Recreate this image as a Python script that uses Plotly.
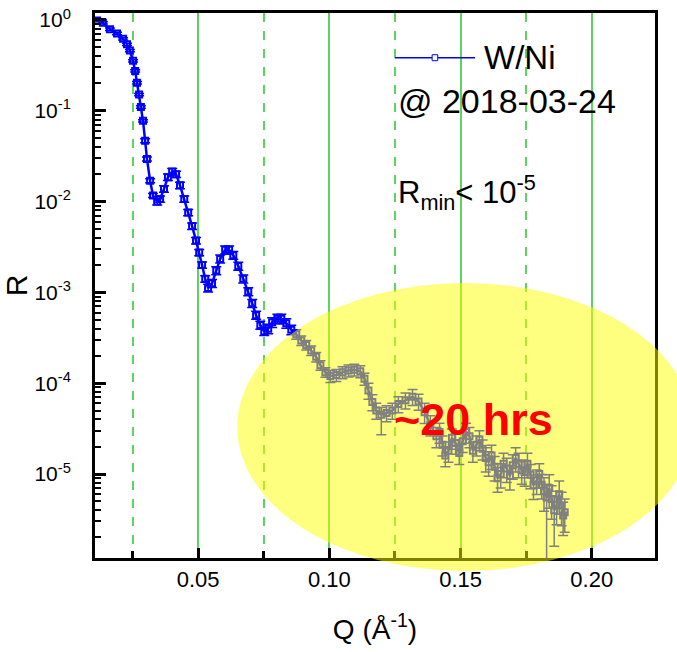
import plotly.graph_objects as go

# Q (1/Angstrom)
q = [0.0115, 0.0137, 0.0164, 0.0191, 0.0214, 0.0229, 0.0240, 0.0252, 0.0260, 0.0267,
     0.0275, 0.0282, 0.0290, 0.0298, 0.0305, 0.0317, 0.0328, 0.0344, 0.0355, 0.0370,
     0.0385, 0.0401, 0.0416, 0.0431, 0.0447, 0.0462, 0.0477, 0.0492, 0.0504, 0.0515,
     0.0527, 0.0538, 0.0553, 0.0569, 0.0584, 0.0603, 0.0618, 0.0634, 0.0653, 0.0672,
     0.0691, 0.0706, 0.0721, 0.0737, 0.0752, 0.0767, 0.0782, 0.0802, 0.0817, 0.0836,
     0.0855, 0.0874, 0.0893, 0.0912, 0.0931, 0.0950, 0.0966, 0.0985, 0.1004, 0.1027,
     0.1050, 0.1073, 0.1095, 0.1118, 0.1134, 0.1149, 0.1164, 0.1179, 0.1198, 0.1218,
     0.1240, 0.1263, 0.1290, 0.1317, 0.1340, 0.1363, 0.1385,
     0.1408, 0.1420, 0.1431, 0.1442, 0.1454, 0.1467, 0.1481, 0.1495, 0.1508, 0.1521,
     0.1534, 0.1547, 0.1561, 0.1572, 0.1584, 0.1596, 0.1607, 0.1618, 0.1630, 0.1641,
     0.1653, 0.1664, 0.1676, 0.1688, 0.1699, 0.1710, 0.1721, 0.1733, 0.1744, 0.1755,
     0.1767, 0.1778, 0.1790, 0.1800, 0.1809, 0.1818, 0.1828, 0.1838, 0.1847, 0.1857,
     0.1866, 0.1876, 0.1885, 0.1891, 0.1897]

# Reflectivity R
r = [0.99, 0.93, 0.79, 0.71, 0.62, 0.54, 0.46, 0.355, 0.275, 0.204,
     0.151, 0.110, 0.0776, 0.0468, 0.0295, 0.0170, 0.0117, 0.0100, 0.0107, 0.0138,
     0.0186, 0.0214, 0.0200, 0.0151, 0.0107, 0.00759, 0.00537, 0.00372, 0.00275, 0.00200,
     0.00141, 0.00112, 0.00126, 0.00174, 0.00234, 0.00295, 0.00295, 0.00257, 0.00195, 0.00141,
     0.00102, 0.000759, 0.000562, 0.000437, 0.000372, 0.000398, 0.000468, 0.000513, 0.000513, 0.000457,
     0.000389, 0.000347, 0.000295, 0.000263, 0.000229, 0.000195, 0.000158, 0.000132, 0.000120, 0.000123,
     0.000132, 0.000138, 0.000141, 0.000135, 0.000112, 8.3e-5, 6.2e-5, 5.0e-5, 4.5e-5, 4.7e-5,
     5.0e-5, 5.9e-5, 6.5e-5, 7.1e-5, 6.3e-5, 4.8e-5, 3.5e-5,
     2.6e-5, 2.9e-5, 2.1e-5, 1.6e-5, 1.8e-5, 2.5e-5, 2.2e-5, 1.7e-5, 2.3e-5, 2.9e-5,
     2.6e-5, 1.8e-5, 2.1e-5, 2.4e-5, 1.9e-5, 1.5e-5, 1.35e-5, 1.6e-5, 1.2e-5, 9.0e-6,
     1.0e-5, 1.3e-5, 1.15e-5, 9.5e-6, 1.25e-5, 1.5e-5, 1.3e-5, 1.1e-5, 1.05e-5, 1.3e-5,
     9.8e-6, 7.5e-6, 8.5e-6, 1.0e-5, 7.6e-6, 6.5e-6, 5.5e-6, 7.0e-6, 5.3e-6, 4.0e-6,
     4.6e-6, 6.0e-6, 4.5e-6, 3.5e-6, 3.8e-6]

# relative error (plus / minus)
err_plus = [0.03, 0.03, 0.03, 0.03, 0.03, 0.03, 0.03, 0.03, 0.03, 0.03,
            0.03, 0.03, 0.03, 0.05, 0.05, 0.05, 0.05, 0.08, 0.08, 0.08,
            0.08, 0.08, 0.08, 0.08, 0.08, 0.08, 0.08, 0.08, 0.08, 0.08,
            0.08, 0.10, 0.10, 0.10, 0.10, 0.10, 0.10, 0.10, 0.10, 0.10,
            0.10, 0.10, 0.10, 0.10, 0.10, 0.12, 0.12, 0.12, 0.12, 0.12,
            0.12, 0.12, 0.12, 0.12, 0.12, 0.12, 0.12, 0.12, 0.15, 0.15,
            0.15, 0.15, 0.15, 0.15, 0.15, 0.20, 0.20, 0.20, 0.20, 0.20,
            0.20, 0.20, 0.20, 0.20, 0.20, 0.25, 0.25,
            0.25, 0.25, 0.25, 0.25, 0.25, 0.25, 0.25, 0.25, 0.25, 0.25,
            0.25, 0.25, 0.25, 0.25, 0.25, 0.30, 0.30, 0.30, 0.30, 0.30,
            0.30, 0.30, 0.30, 0.30, 0.30, 0.30, 0.30, 0.30, 0.30, 0.30,
            0.30, 0.30, 0.30, 0.30, 0.30, 0.40, 0.40, 0.40, 0.40, 0.40,
            0.40, 0.40, 0.40, 0.40, 0.40]
err_minus = [0.03, 0.03, 0.03, 0.03, 0.03, 0.03, 0.03, 0.03, 0.03, 0.03,
             0.03, 0.03, 0.03, 0.05, 0.05, 0.05, 0.05, 0.08, 0.08, 0.08,
             0.08, 0.08, 0.08, 0.08, 0.08, 0.08, 0.08, 0.08, 0.08, 0.08,
             0.08, 0.10, 0.10, 0.10, 0.10, 0.10, 0.10, 0.10, 0.10, 0.10,
             0.10, 0.10, 0.10, 0.10, 0.10, 0.12, 0.12, 0.12, 0.12, 0.12,
             0.12, 0.12, 0.12, 0.12, 0.12, 0.12, 0.12, 0.12, 0.15, 0.15,
             0.15, 0.15, 0.15, 0.15, 0.15, 0.20, 0.20, 0.20, 0.40, 0.20,
             0.20, 0.20, 0.20, 0.20, 0.20, 0.25, 0.25,
             0.25, 0.25, 0.25, 0.25, 0.25, 0.25, 0.25, 0.25, 0.25, 0.25,
             0.25, 0.25, 0.25, 0.25, 0.25, 0.30, 0.30, 0.30, 0.30, 0.30,
             0.30, 0.30, 0.30, 0.30, 0.30, 0.30, 0.30, 0.30, 0.30, 0.30,
             0.30, 0.30, 0.30, 0.30, 0.30, 0.40, 0.80, 0.40, 0.40, 0.60,
             0.40, 0.40, 0.40, 0.40, 0.40]

assert len(q) == len(r) == len(err_plus) == len(err_minus)

y_tickvals = [1, 1e-1, 1e-2, 1e-3, 1e-4, 1e-5]
y_ticktext = ["10<sup>0</sup>", "10<sup>-1</sup>", "10<sup>-2</sup>",
              "10<sup>-3</sup>", "10<sup>-4</sup>", "10<sup>-5</sup>"]
y_minor_vals = [m * 10.0 ** e for e in range(-6, 1) for m in range(2, 10)]

BLUE = "#0000ff"
GREEN = "#5fd35f"
FONT = "Arial, Liberation Sans, sans-serif"
Y_RANGE = [-5.925, 0.077]

fig = go.Figure()
fig.add_trace(go.Scatter(
    x=q, y=r, mode="lines+markers", name="W/Ni", showlegend=False,
    line=dict(color=BLUE, width=2.5),
    marker=dict(symbol="square-open", size=6, color=BLUE, line=dict(width=2, color=BLUE)),
    error_y=dict(type="data", symmetric=False,
                 array=[a * b for a, b in zip(r, err_plus)],
                 arrayminus=[a * b for a, b in zip(r, err_minus)],
                 color=BLUE, thickness=1.5, width=5),
))
# invisible trace on the overlay axis so the minor-tick axis is drawn
fig.add_trace(go.Scatter(x=[q[0]], y=[r[0]], yaxis="y2", mode="markers",
                         marker=dict(opacity=0), showlegend=False, hoverinfo="skip"))

# manual legend sample (line with open square)
fig.add_shape(type="line", xref="paper", yref="paper", x0=0.5357, x1=0.6786, y0=0.918, y1=0.918,
              line=dict(color=BLUE, width=1.5))
fig.add_shape(type="rect", xref="paper", yref="paper", x0=0.602, x1=0.612, y0=0.9125, y1=0.9235,
              line=dict(color=BLUE, width=1), fillcolor="white")

# yellow highlight ellipse
fig.add_shape(type="circle", xref="paper", yref="paper", x0=0.254, x1=1.0675, y0=-0.024, y1=0.5046,
              fillcolor="rgb(255,255,0)", opacity=0.5, line=dict(width=0), layer="above")

fig.add_annotation(xref="paper", yref="paper", x=0.691, y=0.918, xanchor="left", yanchor="middle",
                   text="W/Ni", showarrow=False, font=dict(family=FONT, size=33, color="black"))
fig.add_annotation(xref="paper", yref="paper", x=0.537, y=0.839, xanchor="left", yanchor="middle",
                   text="@ 2018-03-24", showarrow=False, font=dict(family=FONT, size=34, color="black"))
fig.add_annotation(xref="paper", yref="paper", x=0.537, y=0.671, xanchor="left", yanchor="middle",
                   text="R<sub>min</sub>< 10<sup>-5</sup>", showarrow=False,
                   font=dict(family=FONT, size=31, color="black"))
fig.add_annotation(xref="paper", yref="paper", x=0.675, y=0.255, xanchor="center", yanchor="middle",
                   text="<b>~20 hrs</b>", showarrow=False, font=dict(family=FONT, size=45, color="#ff0000"))

fig.update_layout(
    width=677, height=652,
    margin=dict(l=95, r=22, t=13, b=94),
    paper_bgcolor="white", plot_bgcolor="white",
    font=dict(family=FONT, color="black"),
    xaxis=dict(
        range=[0.0107, 0.2241], tick0=0, dtick=0.05, tickformat=".2f", automargin=False,
        ticks="inside", ticklen=10, tickwidth=2.5, tickcolor="black",
        showline=True, linewidth=3, linecolor="black", mirror=True, zeroline=False,
        showgrid=True, gridcolor=GREEN, gridwidth=1.5,
        minor=dict(tick0=0, dtick=0.025, ticks="inside", ticklen=7, tickwidth=2.5, tickcolor="black",
                   showgrid=True, gridcolor=GREEN, gridwidth=1.5, griddash="dash"),
        tickfont=dict(size=22, family=FONT, color="black"),
        ticklabelstandoff=0,
        title=dict(text="Q (Å<sup>-1</sup>)", font=dict(size=28, family=FONT, color="black"), standoff=28),
    ),
    yaxis=dict(
        type="log", range=Y_RANGE, tickmode="array", tickvals=y_tickvals, ticktext=y_ticktext,
        automargin=False, ticklabeloverflow="allow",
        ticks="inside", ticklen=11, tickwidth=3, tickcolor="black",
        showline=True, linewidth=3, linecolor="black", mirror=True, zeroline=False, showgrid=False,
        tickfont=dict(size=21, family=FONT, color="black"),
        ticklabelstandoff=17,
        title=dict(text="R", font=dict(size=30, family=FONT, color="black"), standoff=27),
    ),
    yaxis2=dict(
        type="log", range=Y_RANGE, overlaying="y", side="left", tickmode="array",
        tickvals=y_minor_vals, showticklabels=False, ticks="inside", ticklen=6, tickwidth=2,
        tickcolor="black", showline=False, showgrid=False, zeroline=False, automargin=False,
    ),
)

# remove the browser's default 8 px body margin so the figure fills the window exactly
fig.write_html("out.html", config={"displayModeBar": False},
               post_script="document.body.style.margin='0';")
